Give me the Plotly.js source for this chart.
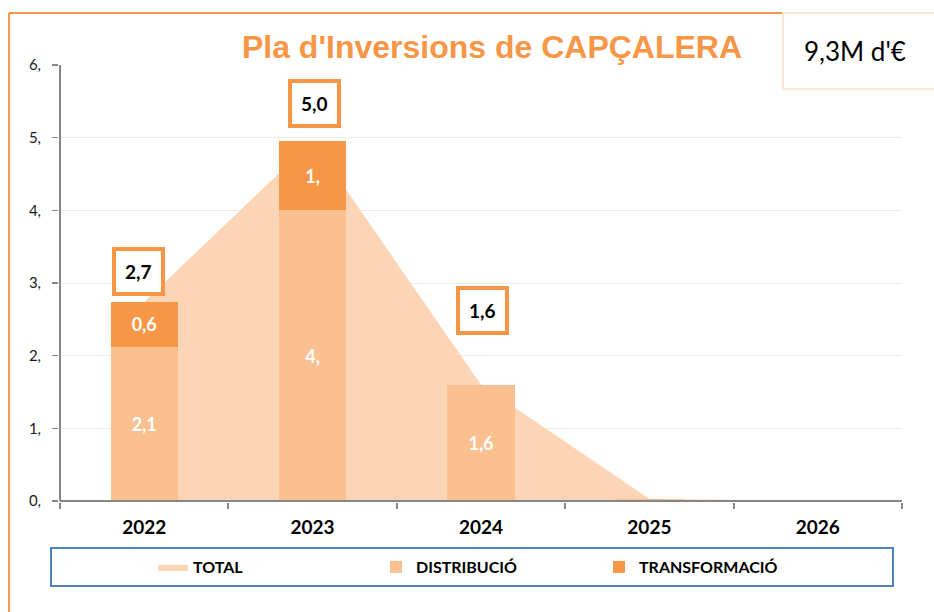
<!DOCTYPE html>
<html>
<head>
<meta charset="utf-8">
<script src="https://cdn.plot.ly/plotly-3.0.1.min.js"></script>
<style>html,body{margin:0;padding:0;background:#fff;}#chart{width:934px;height:612px;}</style>
</head>
<body>
<div id="chart"></div>
<script>
// ---- data ----
const years = ['2022', '2023', '2024', '2025', '2026'];
const total = [2.74, 4.95, 1.6, 0.03, 0];
const distribucio = [2.12, 4.0, 1.6, 0.03, 0];
const transformacio = [0.62, 0.95, 0, 0, 0];
const distText = ['2,1', '4,', '1,6', '', ''];
const transText = ['0,6', '1,', '', '', ''];
const totalLabelYears = ['2022', '2023', '2024'];
const totalLabelValues = [2.74, 4.95, 1.6];
const totalLabelText = ['2,7', '5,0', '1,6'];
const yTickVals = [0, 1, 2, 3, 4, 5, 6];
const yTickText = ['0,', '1,', '2,', '3,', '4,', '5,', '6,'];
const seriesNames = ['TOTAL', 'DISTRIBUCIÓ', 'TRANSFORMACIÓ'];
const chartTitle = "Pla d'Inversions de CAPÇALERA";
const summaryText = "9,3M d'€";

// ---- style ----
const cTotal = '#FBD5B5', cDist = '#FAC090', cTrans = '#F79646';
const labelXShift = [-6, 2, 1];
const labelYShift = [30, 38, 74];
const font = 'Lato, "Open Sans", sans-serif';
const axisColor = '#868686';

const traces = [
  {
    type: 'scatter', mode: 'lines', x: years, y: total, name: seriesNames[0],
    fill: 'tozeroy', fillcolor: cTotal, line: {width: 0, color: cTotal},
    hoverinfo: 'skip', zorder: -1
  },
  {
    type: 'bar', x: years, y: distribucio, name: seriesNames[1],
    marker: {color: cDist, line: {width: 0}},
    text: distText, texttemplate: '<b>%{text}</b>', textposition: 'inside', insidetextanchor: 'middle',
    textangle: 0, constraintext: 'none',
    textfont: {family: font, size: 18, color: '#ffffff', weight: 'bold'},
    hoverinfo: 'skip', zorder: 1
  },
  {
    type: 'bar', x: years, y: transformacio, name: seriesNames[2],
    marker: {color: cTrans, line: {width: 0}},
    text: transText, texttemplate: '<b>%{text}</b>', textposition: 'inside', insidetextanchor: 'middle',
    textangle: 0, constraintext: 'none',
    textfont: {family: font, size: 18, color: '#ffffff', weight: 'bold'},
    hoverinfo: 'skip', zorder: 1
  }
];

const annotations = totalLabelYears.map((yr, i) => ({
  x: years.indexOf(yr), y: totalLabelValues[i], xref: 'x', yref: 'y',
  text: '<b>' + totalLabelText[i] + '</b>', showarrow: false,
  xanchor: 'center', yanchor: 'middle',
  xshift: labelXShift[i], yshift: labelYShift[i],
  font: {family: font, size: 19, color: '#000000'},
  bgcolor: '#ffffff', bordercolor: cTrans, borderwidth: 4, borderpad: 9
}));
annotations.push({
  x: (855 - 60) / 842, y: (501 - 51) / 436, xref: 'paper', yref: 'paper', showarrow: false,
  xanchor: 'center', yanchor: 'middle',
  text: summaryText, font: {family: font, size: 26, color: '#000000'}
});

const px2x = p => (p - 60) / 842;
const py2y = p => (501 - p) / 436;

const shapes = [
  // outer chart border (orange)
  {type: 'line', xref: 'paper', yref: 'paper', x0: px2x(9), x1: px2x(9), y0: py2y(13), y1: py2y(640),
   line: {color: '#F79646', width: 2}, layer: 'below'},
  {type: 'line', xref: 'paper', yref: 'paper', x0: px2x(9), x1: px2x(800), y0: py2y(13), y1: py2y(13),
   line: {color: '#F79646', width: 2}, layer: 'below'},
  // axis lines
  {type: 'line', xref: 'paper', yref: 'paper', x0: 0, x1: 0, y0: 0, y1: 1,
   line: {color: axisColor, width: 2}, layer: 'above'},
  {type: 'line', xref: 'paper', yref: 'paper', x0: 0, x1: 1, y0: 0, y1: 0,
   line: {color: axisColor, width: 2}, layer: 'above'},
  // summary box
  {type: 'rect', xref: 'paper', yref: 'paper', x0: px2x(783), x1: px2x(960), y0: py2y(89), y1: py2y(13),
   fillcolor: '#ffffff', line: {color: '#FDE4D0', width: 2}, layer: 'above'},
  // legend box
  {type: 'rect', xref: 'paper', yref: 'paper', x0: px2x(51), x1: px2x(893), y0: py2y(586), y1: py2y(548),
   fillcolor: 'rgba(0,0,0,0)', line: {color: '#4F81BD', width: 2}, layer: 'above'}
];

const layout = {
  width: 934, height: 612,
  margin: {l: 60, r: 32, t: 65, b: 111, pad: 0},
  paper_bgcolor: '#ffffff', plot_bgcolor: 'rgba(0,0,0,0)',
  title: {
    text: chartTitle, x: 492 / 934, xref: 'container', xanchor: 'center',
    y: 1 - 47 / 612, yref: 'container', yanchor: 'middle',
    font: {family: '"Liberation Sans", Arial, sans-serif', size: 32, color: '#F79646', weight: 'bold'}
  },
  barmode: 'stack', bargap: 0.6,
  showlegend: true,
  legend: {
    orientation: 'h', x: px2x(153), xanchor: 'left', y: py2y(567), yanchor: 'middle',
    entrywidth: 178, entrywidthmode: 'pixels', traceorder: 'normal',
    bgcolor: 'rgba(0,0,0,0)', borderwidth: 0,
    font: {family: font, size: 16, color: '#000000', weight: 'bold'}
  },
  xaxis: {
    type: 'category', range: [-0.5, 4.5], showgrid: false, showline: true, linecolor: axisColor, linewidth: 2,
    ticks: 'outside', ticklen: 6, tickcolor: axisColor, tickwidth: 2, tickson: 'boundaries',
    tickfont: {family: font, size: 19, color: '#000000', weight: 'bold'}, ticklabelstandoff: 8,
    fixedrange: true
  },
  yaxis: {
    range: [0, 6], tickvals: yTickVals, ticktext: yTickText,
    showgrid: true, gridcolor: '#EEECE1', gridwidth: 1, zeroline: false,
    showline: true, linecolor: axisColor, linewidth: 2,
    ticks: 'outside', ticklen: 6, tickcolor: axisColor, tickwidth: 1.5,
    tickfont: {family: font, size: 15, color: '#1a1a1a'}, ticklabelstandoff: 8,
    fixedrange: true
  },
  annotations: annotations,
  shapes: shapes,
  hovermode: false
};

Plotly.newPlot('chart', traces, layout, {displayModeBar: false, staticPlot: true});
</script>
</body>
</html>
